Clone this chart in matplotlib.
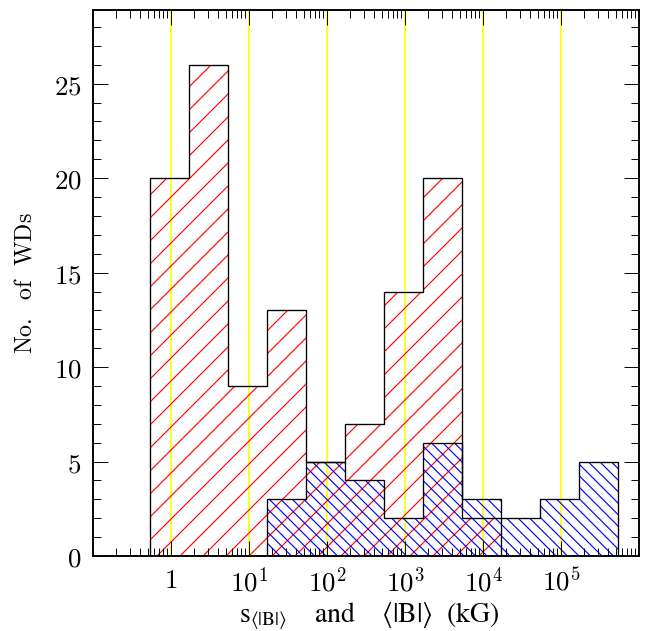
import numpy as np
import matplotlib.pyplot as plt
from matplotlib.ticker import FixedLocator, FixedFormatter, LogLocator, MultipleLocator, NullFormatter

plt.rcParams['mathtext.fontset'] = 'cm'
plt.rcParams['font.family'] = 'serif'
plt.rcParams['font.serif'] = ['DejaVu Serif']
plt.rcParams['hatch.linewidth'] = 0.6

# histogram counts (0.5 dex bins)
red_counts = [20, 26, 9, 13, 5, 7, 14, 20, 2]   # s_<|B|>
blue_counts = [3, 5, 4, 2, 6, 3, 2, 3, 5]       # <|B|>
red_start = -0.27   # log10 of first bin edge
blue_start = 1.23
bin_width = 0.5

decades = [1, 10, 100, 1e3, 1e4, 1e5]
tick_labels = ['$1$', '$10^{1}$', '$10^{2}$', '$10^{3}$', '$10^{4}$', '$10^{5}$']

red_edges = 10 ** (red_start + bin_width * np.arange(len(red_counts) + 1))
blue_edges = 10 ** (blue_start + bin_width * np.arange(len(blue_counts) + 1))

bslash = chr(92)

dpi = 138
fig = plt.figure(figsize=(649 / dpi, 631 / dpi), dpi=dpi)
ax = fig.add_axes([93 / 649, 1 - 556 / 631, 546 / 649, 546 / 631])

for d in decades:
    ax.axvline(d, color='#ffff00', lw=0.9, zorder=0)

ax.stairs(red_counts, red_edges, fill=True, facecolor='none', edgecolor='red', hatch='//', lw=0, zorder=1)
ax.stairs(blue_counts, blue_edges, fill=True, facecolor='none', edgecolor='blue', hatch=bslash * 4, lw=0, zorder=1)
ax.stairs(red_counts, red_edges, color='black', lw=0.7, zorder=2)
ax.stairs(blue_counts, blue_edges, color='black', lw=0.7, zorder=2)

ax.set_xscale('log')
ax.set_xlim(0.1, 1e6)
ax.set_ylim(0, 28.9)

ax.xaxis.set_major_locator(FixedLocator(decades))
ax.xaxis.set_major_formatter(FixedFormatter(tick_labels))
ax.xaxis.set_minor_locator(LogLocator(base=10, subs=np.arange(2, 10), numticks=20))
ax.xaxis.set_minor_formatter(NullFormatter())
ax.yaxis.set_major_locator(MultipleLocator(5))
ax.yaxis.set_minor_locator(MultipleLocator(1))
ax.yaxis.set_major_formatter(plt.FuncFormatter(lambda v, p: '$%d$' % v))

ax.tick_params(which='both', direction='in', top=True, right=True, width=0.5, labelsize=14)
ax.tick_params(which='major', length=7.8, pad=6)
ax.tick_params(which='minor', length=4)
for s in ax.spines.values():
    s.set_linewidth(1.0)

fig.text(369 / 649, 1 - 622 / 631,
         r'$\mathrm{s}_{\langle|\mathrm{B}|\rangle}\quad\ \mathrm{and}\quad\ \langle|\mathrm{B}|\rangle\ \ \mathrm{(kG)}$',
         fontsize=14.5, ha='center', va='baseline', math_fontfamily='stix')
ax.set_ylabel(r'$\mathrm{No.\ \ of\ \ WDs}$', fontsize=12.5, labelpad=9)

fig.savefig('out.png', dpi=dpi)
